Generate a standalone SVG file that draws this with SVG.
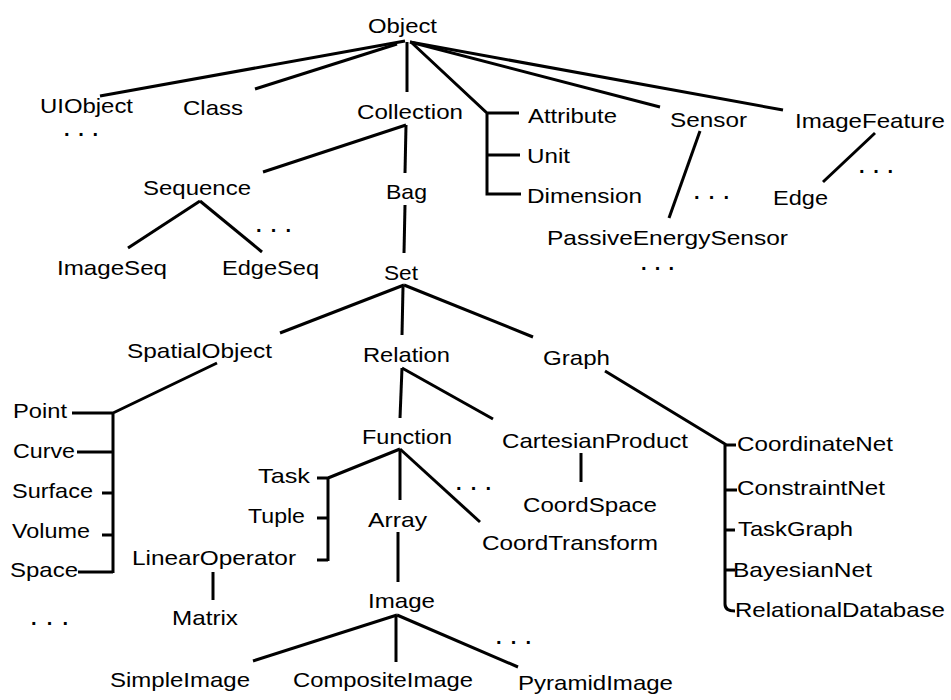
<svg xmlns="http://www.w3.org/2000/svg" width="951" height="700" viewBox="0 0 951 700">
  <style>
    .bg { fill: #ffffff; }
    .lbl { font-family: "Liberation Sans", Arial, Helvetica, sans-serif; font-size: 21px; fill: #000; }
    .dots { font-family: "Liberation Sans", Arial, sans-serif; font-size: 20px; font-weight: bold; fill: #000; }
    .edge { fill: none; stroke: #000; stroke-width: 3; stroke-linecap: butt; stroke-linejoin: miter; }
  </style>
  <rect class="bg" x="0" y="0" width="951" height="700"/>

  <!-- tree connectors -->
  <g id="connectors" class="edge">
    <!-- Object children -->
    <path d="M405,41 L100,96"/>
    <path d="M397,44 L255,89"/>
    <path d="M407,42 L407,92"/>
    <path d="M412,43 L487,113 L519,113 M487,112 L487,194 L521,194 M487,155 L520,155"/>
    <path d="M410,42 L660,107"/>
    <path d="M410,42 L783,110"/>
    <!-- Collection children -->
    <path d="M406,125 L263,172"/>
    <path d="M406,125 L405,173"/>
    <!-- Sequence children -->
    <path d="M200,201 L128,248"/>
    <path d="M200,201 L262,252"/>
    <!-- Bag -> Set -->
    <path d="M405,205 L404,253"/>
    <!-- Sensor, ImageFeature -->
    <path d="M700,131 L669,218"/>
    <path d="M875,133 L823,182"/>
    <!-- Set children -->
    <path d="M404,285 L280,333"/>
    <path d="M403,287 L402,335"/>
    <path d="M404,285 L533,337"/>
    <!-- SpatialObject bracket -->
    <path d="M217,363 L113,413 M113,412 L113,573 M72,413 L113,413 M77,452 L113,452 M102,493 L113,493 M102,535 L113,535 M78,572 L113,572"/>
    <!-- Relation children -->
    <path d="M402,368 L400,418"/>
    <path d="M402,368 L493,419"/>
    <!-- Graph bracket -->
    <path d="M605,371 L725,444 M725,443 L725,604 Q725,611 735,611 M725,445 L736,445 M725,490 L737,490 M725,530 L735,530 M725,570 L735,570"/>
    <!-- Function children -->
    <path d="M400,449 L328,478 M328,477 L328,561 M317,478 L328,478 M317,518 L328,518 M317,560 L328,560"/>
    <path d="M400,450 L400,500"/>
    <path d="M400,449 L480,522"/>
    <!-- single descendants -->
    <path d="M581,453 L581,482"/>
    <path d="M213,572 L213,600"/>
    <path d="M398,532 L398,582"/>
    <!-- Image children -->
    <path d="M397,615 L253,661"/>
    <path d="M396,615 L396,662"/>
    <path d="M397,615 L518,667"/>
  </g>

  <!-- class nodes -->
  <g id="n-object"><text class="lbl" x="368" y="33" textLength="69" lengthAdjust="spacingAndGlyphs">Object</text></g>
  <g id="n-uiobject"><text class="lbl" x="40" y="113" textLength="93" lengthAdjust="spacingAndGlyphs">UIObject</text></g>
  <g id="n-class"><text class="lbl" x="183" y="115" textLength="60" lengthAdjust="spacingAndGlyphs">Class</text></g>
  <g id="n-collection"><text class="lbl" x="357" y="119" textLength="106" lengthAdjust="spacingAndGlyphs">Collection</text></g>
  <g id="n-attribute"><text class="lbl" x="528" y="123" textLength="89" lengthAdjust="spacingAndGlyphs">Attribute</text></g>
  <g id="n-unit"><text class="lbl" x="527" y="163" textLength="43" lengthAdjust="spacingAndGlyphs">Unit</text></g>
  <g id="n-dimension"><text class="lbl" x="527" y="203" textLength="115" lengthAdjust="spacingAndGlyphs">Dimension</text></g>
  <g id="n-sensor"><text class="lbl" x="670" y="127" textLength="77" lengthAdjust="spacingAndGlyphs">Sensor</text></g>
  <g id="n-imagefeature"><text class="lbl" x="795" y="128" textLength="150" lengthAdjust="spacingAndGlyphs">ImageFeature</text></g>
  <g id="n-sequence"><text class="lbl" x="143" y="195" textLength="108" lengthAdjust="spacingAndGlyphs">Sequence</text></g>
  <g id="n-bag"><text class="lbl" x="386" y="199" textLength="41" lengthAdjust="spacingAndGlyphs">Bag</text></g>
  <g id="n-edge"><text class="lbl" x="773" y="205" textLength="55" lengthAdjust="spacingAndGlyphs">Edge</text></g>
  <g id="n-imageseq"><text class="lbl" x="57" y="275" textLength="110" lengthAdjust="spacingAndGlyphs">ImageSeq</text></g>
  <g id="n-edgeseq"><text class="lbl" x="222" y="275" textLength="97" lengthAdjust="spacingAndGlyphs">EdgeSeq</text></g>
  <g id="n-set"><text class="lbl" x="384" y="280" textLength="34" lengthAdjust="spacingAndGlyphs">Set</text></g>
  <g id="n-passiveenergysensor"><text class="lbl" x="547" y="245" textLength="241" lengthAdjust="spacingAndGlyphs">PassiveEnergySensor</text></g>
  <g id="n-spatialobject"><text class="lbl" x="127" y="358" textLength="145" lengthAdjust="spacingAndGlyphs">SpatialObject</text></g>
  <g id="n-relation"><text class="lbl" x="363" y="362" textLength="87" lengthAdjust="spacingAndGlyphs">Relation</text></g>
  <g id="n-graph"><text class="lbl" x="543" y="365" textLength="67" lengthAdjust="spacingAndGlyphs">Graph</text></g>
  <g id="n-point"><text class="lbl" x="13" y="418" textLength="54" lengthAdjust="spacingAndGlyphs">Point</text></g>
  <g id="n-curve"><text class="lbl" x="13" y="458" textLength="62" lengthAdjust="spacingAndGlyphs">Curve</text></g>
  <g id="n-surface"><text class="lbl" x="12" y="498" textLength="81" lengthAdjust="spacingAndGlyphs">Surface</text></g>
  <g id="n-volume"><text class="lbl" x="12" y="538" textLength="78" lengthAdjust="spacingAndGlyphs">Volume</text></g>
  <g id="n-space"><text class="lbl" x="10" y="577" textLength="68" lengthAdjust="spacingAndGlyphs">Space</text></g>
  <g id="n-function"><text class="lbl" x="362" y="444" textLength="90" lengthAdjust="spacingAndGlyphs">Function</text></g>
  <g id="n-cartesianproduct"><text class="lbl" x="502" y="448" textLength="186" lengthAdjust="spacingAndGlyphs">CartesianProduct</text></g>
  <g id="n-coordinatenet"><text class="lbl" x="737" y="451" textLength="156" lengthAdjust="spacingAndGlyphs">CoordinateNet</text></g>
  <g id="n-task"><text class="lbl" x="258" y="483" textLength="52" lengthAdjust="spacingAndGlyphs">Task</text></g>
  <g id="n-tuple"><text class="lbl" x="248" y="523" textLength="57" lengthAdjust="spacingAndGlyphs">Tuple</text></g>
  <g id="n-array"><text class="lbl" x="368" y="527" textLength="59" lengthAdjust="spacingAndGlyphs">Array</text></g>
  <g id="n-linearoperator"><text class="lbl" x="132" y="565" textLength="164" lengthAdjust="spacingAndGlyphs">LinearOperator</text></g>
  <g id="n-coordspace"><text class="lbl" x="523" y="512" textLength="134" lengthAdjust="spacingAndGlyphs">CoordSpace</text></g>
  <g id="n-coordtransform"><text class="lbl" x="482" y="550" textLength="176" lengthAdjust="spacingAndGlyphs">CoordTransform</text></g>
  <g id="n-constraintnet"><text class="lbl" x="737" y="495" textLength="148" lengthAdjust="spacingAndGlyphs">ConstraintNet</text></g>
  <g id="n-taskgraph"><text class="lbl" x="738" y="536" textLength="115" lengthAdjust="spacingAndGlyphs">TaskGraph</text></g>
  <g id="n-bayesiannet"><text class="lbl" x="733" y="577" textLength="139" lengthAdjust="spacingAndGlyphs">BayesianNet</text></g>
  <g id="n-relationaldatabase"><text class="lbl" x="735" y="617" textLength="210" lengthAdjust="spacingAndGlyphs">RelationalDatabase</text></g>
  <g id="n-image"><text class="lbl" x="368" y="608" textLength="67" lengthAdjust="spacingAndGlyphs">Image</text></g>
  <g id="n-matrix"><text class="lbl" x="172" y="625" textLength="66" lengthAdjust="spacingAndGlyphs">Matrix</text></g>
  <g id="n-simpleimage"><text class="lbl" x="110" y="687" textLength="140" lengthAdjust="spacingAndGlyphs">SimpleImage</text></g>
  <g id="n-compositeimage"><text class="lbl" x="293" y="687" textLength="180" lengthAdjust="spacingAndGlyphs">CompositeImage</text></g>
  <g id="n-pyramidimage"><text class="lbl" x="518" y="690" textLength="155" lengthAdjust="spacingAndGlyphs">PyramidImage</text></g>

  <!-- ellipses marking further subclasses -->
  <g id="more">
    <text class="dots" x="64" y="136" textLength="34" lengthAdjust="spacing">. . .</text>
    <text class="dots" x="256" y="232" textLength="35" lengthAdjust="spacing">. . .</text>
    <text class="dots" x="694" y="199" textLength="35" lengthAdjust="spacing">. . .</text>
    <text class="dots" x="859" y="173" textLength="34" lengthAdjust="spacing">. . .</text>
    <text class="dots" x="641" y="270" textLength="33" lengthAdjust="spacing">. . .</text>
    <text class="dots" x="456" y="490" textLength="35" lengthAdjust="spacing">. . .</text>
    <text class="dots" x="31" y="625" textLength="37" lengthAdjust="spacing">. . .</text>
    <text class="dots" x="496" y="644" textLength="35" lengthAdjust="spacing">. . .</text>
  </g>
</svg>
